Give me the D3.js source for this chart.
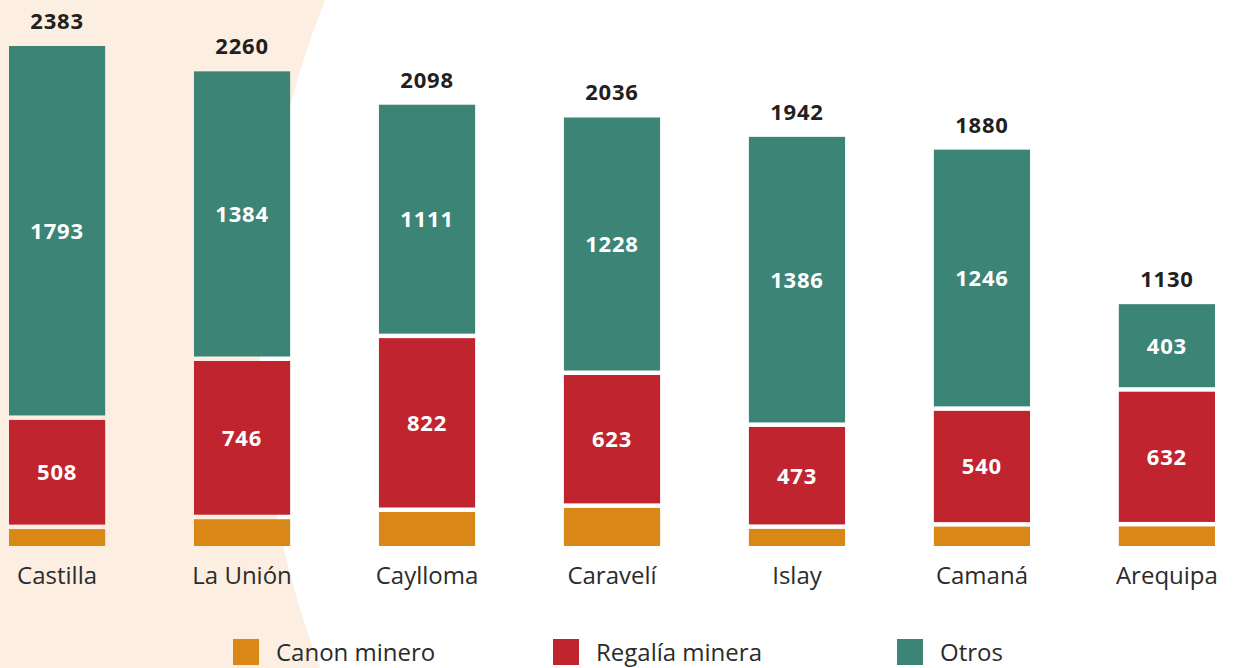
<!DOCTYPE html>
<html>
<head>
<meta charset="utf-8">
<script src="https://cdn.jsdelivr.net/npm/d3@7"></script>
<style>
	body { margin: 0; background: #fff; }
	svg { display: block; font-family: "Open Sans", "Noto Sans", sans-serif; }
</style>
</head>
<body>
<div id="chart"></div>
<script>
const provincias = ['Castilla', 'La Unión', 'Caylloma', 'Caravelí', 'Islay', 'Camaná', 'Arequipa'];
const canonMinero = [82, 130, 165, 185, 83, 94, 95];
const regaliaMinera = [508, 746, 822, 623, 473, 540, 632];
const otros = [1793, 1384, 1111, 1228, 1386, 1246, 403];
const totales = [2383, 2260, 2098, 2036, 1942, 1880, 1130];

const seriesNames = ['Canon minero', 'Regalía minera', 'Otros'];
const seriesColors = ['#d98818', '#c0242f', '#3c8475'];

const widthSvg = 1233;
const heightSvg = 668;
const gap = 4.5;

const svg = d3.select('#chart').append('svg')
	.attr('width', widthSvg)
	.attr('height', heightSvg);

// fondo beige con curva
svg.append('rect')
	.attr('width', widthSvg)
	.attr('height', heightSvg)
	.attr('fill', '#fcefe2');
svg.append('circle')
	.attr('cx', 1182)
	.attr('cy', 340)
	.attr('r', 922)
	.attr('fill', '#fff');

const xScale = d3.scaleBand()
	.domain(provincias)
	.range([9, 1215])
	.paddingInner(0.48)
	.paddingOuter(0);

const yScale = d3.scaleLinear()
	.domain([0, d3.max(totales)])
	.range([546, 46 + 2 * gap]);

const rows = provincias.map((p, i) => ({
	provincia: p,
	'Canon minero': canonMinero[i],
	'Regalía minera': regaliaMinera[i],
	'Otros': otros[i]
}));

const stacked = d3.stack().keys(seriesNames)(rows);

stacked.forEach((layer, k) => {
	const g = svg.append('g');
	g.selectAll('rect')
		.data(layer)
		.enter().append('rect')
		.attr('x', d => xScale(d.data.provincia))
		.attr('width', xScale.bandwidth())
		.attr('y', d => yScale(d[1]) - k * gap)
		.attr('height', d => yScale(d[0]) - yScale(d[1]))
		.attr('fill', seriesColors[k]);

	if (k > 0) {
		g.selectAll('text')
			.data(layer)
			.enter().append('text')
			.attr('x', d => xScale(d.data.provincia) + xScale.bandwidth() / 2)
			.attr('y', d => (yScale(d[1]) + yScale(d[0])) / 2 - k * gap)
			.attr('dy', '0.36em')
			.attr('text-anchor', 'middle')
			.attr('fill', '#fff')
			.attr('font-weight', 'bold')
			.attr('font-size', 22)
			.attr('letter-spacing', 0.8)
			.text(d => d[1] - d[0]);
	}
});

// totales
svg.append('g').selectAll('text')
	.data(totales)
	.enter().append('text')
	.attr('x', (d, i) => xScale(provincias[i]) + xScale.bandwidth() / 2)
	.attr('y', d => yScale(d) - 2 * gap - 17)
	.attr('text-anchor', 'middle')
	.attr('fill', '#231f20')
	.attr('font-weight', 'bold')
	.attr('font-size', 22)
	.attr('letter-spacing', 0.8)
	.text(d => d);

// eje x
const xAxis = d3.axisBottom(xScale).tickSize(0).tickPadding(0);
const axisG = svg.append('g')
	.attr('transform', 'translate(0, 566)')
	.call(xAxis);
axisG.select('.domain').remove();
axisG.selectAll('text')
	.attr('font-size', 24)
	.attr('font-family', '"Open Sans", "Noto Sans", sans-serif')
	.attr('fill', '#2b2b2b')
	.attr('dy', '0.36em')
	.attr('y', 9);

// leyenda
const legendX = [233, 553, 897];
const legend = svg.append('g').selectAll('g')
	.data(seriesNames)
	.enter().append('g')
	.attr('transform', (d, i) => `translate(${legendX[i]}, 639)`);
legend.append('rect')
	.attr('width', 26)
	.attr('height', 26)
	.attr('fill', (d, i) => seriesColors[i]);
legend.append('text')
	.attr('x', 43)
	.attr('y', 13)
	.attr('dy', '0.36em')
	.attr('font-size', 24)
	.attr('fill', '#2b2b2b')
	.text(d => d);
</script>
</body>
</html>
